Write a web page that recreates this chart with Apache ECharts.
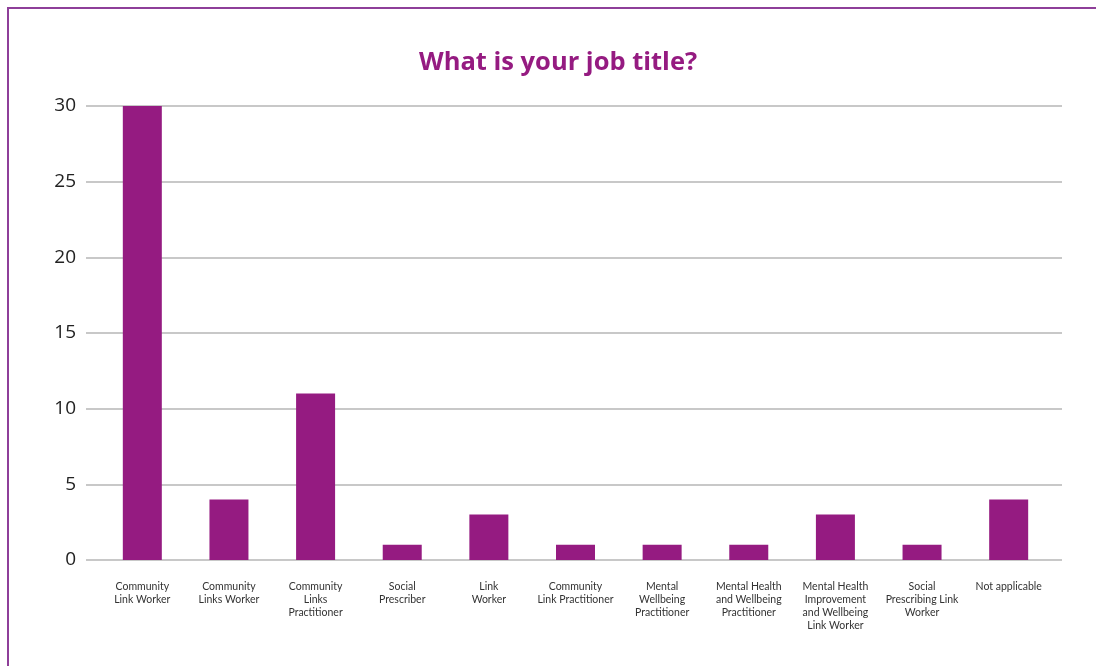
<!DOCTYPE html>
<html><head><meta charset="utf-8">
<script src="https://cdn.jsdelivr.net/npm/echarts@6/dist/echarts.min.js"></script>
<style>html,body{margin:0;padding:0;background:#fff;}#c{width:1096px;height:666px;}</style>
</head><body><div id="c"></div>
<script>
const categories = ["Community\nLink Worker","Community\nLinks Worker","Community\nLinks\nPractitioner","Social\nPrescriber","Link\nWorker","Community\nLink Practitioner","Mental\nWellbeing\nPractitioner","Mental Health\nand Wellbeing\nPractitioner","Mental Health\nImprovement\nand Wellbeing\nLink Worker","Social\nPrescribing Link\nWorker","Not applicable"];
const values = [30,4,11,1,3,1,1,1,3,1,4];
const yTicks = [0,5,10,15,20,25,30];

const chart = echarts.init(document.getElementById('c'));
chart.setOption({
  animation:false,
  title:{text:'What is your job title?',left:414,top:45,textStyle:{color:'#951b81',fontSize:25.5,fontWeight:'bold',fontFamily:'Open Sans'}},
  graphic:[
    {type:'rect',shape:{x:7,y:7,width:2,height:670},style:{fill:'#8e3f99'}},
    {type:'rect',shape:{x:7,y:7,width:1100,height:2},style:{fill:'#8e3f99'}}
  ],
  grid:[
    {left:86,right:34,top:106,bottom:106},
    {left:99,right:44,top:106,bottom:106}
  ],
  xAxis:[
    {gridIndex:0,type:'category',data:categories,show:false},
    {gridIndex:1,type:'category',data:categories,axisLine:{show:false},axisTick:{show:false},
     axisLabel:{interval:0,fontSize:10.5,lineHeight:13,color:'#333',margin:20,fontFamily:'Lato'}}
  ],
  yAxis:[
    {gridIndex:0,type:'value',min:0,max:30,interval:5,
     axisLabel:{fontSize:19,color:'#222',margin:10,fontFamily:'Open Sans'},
     axisLine:{show:false},axisTick:{show:false},
     splitLine:{lineStyle:{color:'#c8c8c8',width:2}}},
    {gridIndex:1,type:'value',min:0,max:30,interval:5,show:false,splitLine:{show:false}}
  ],
  series:[{type:'bar',xAxisIndex:1,yAxisIndex:1,data:values,barWidth:39,itemStyle:{color:'#951b81'}}]
});
</script></body></html>
